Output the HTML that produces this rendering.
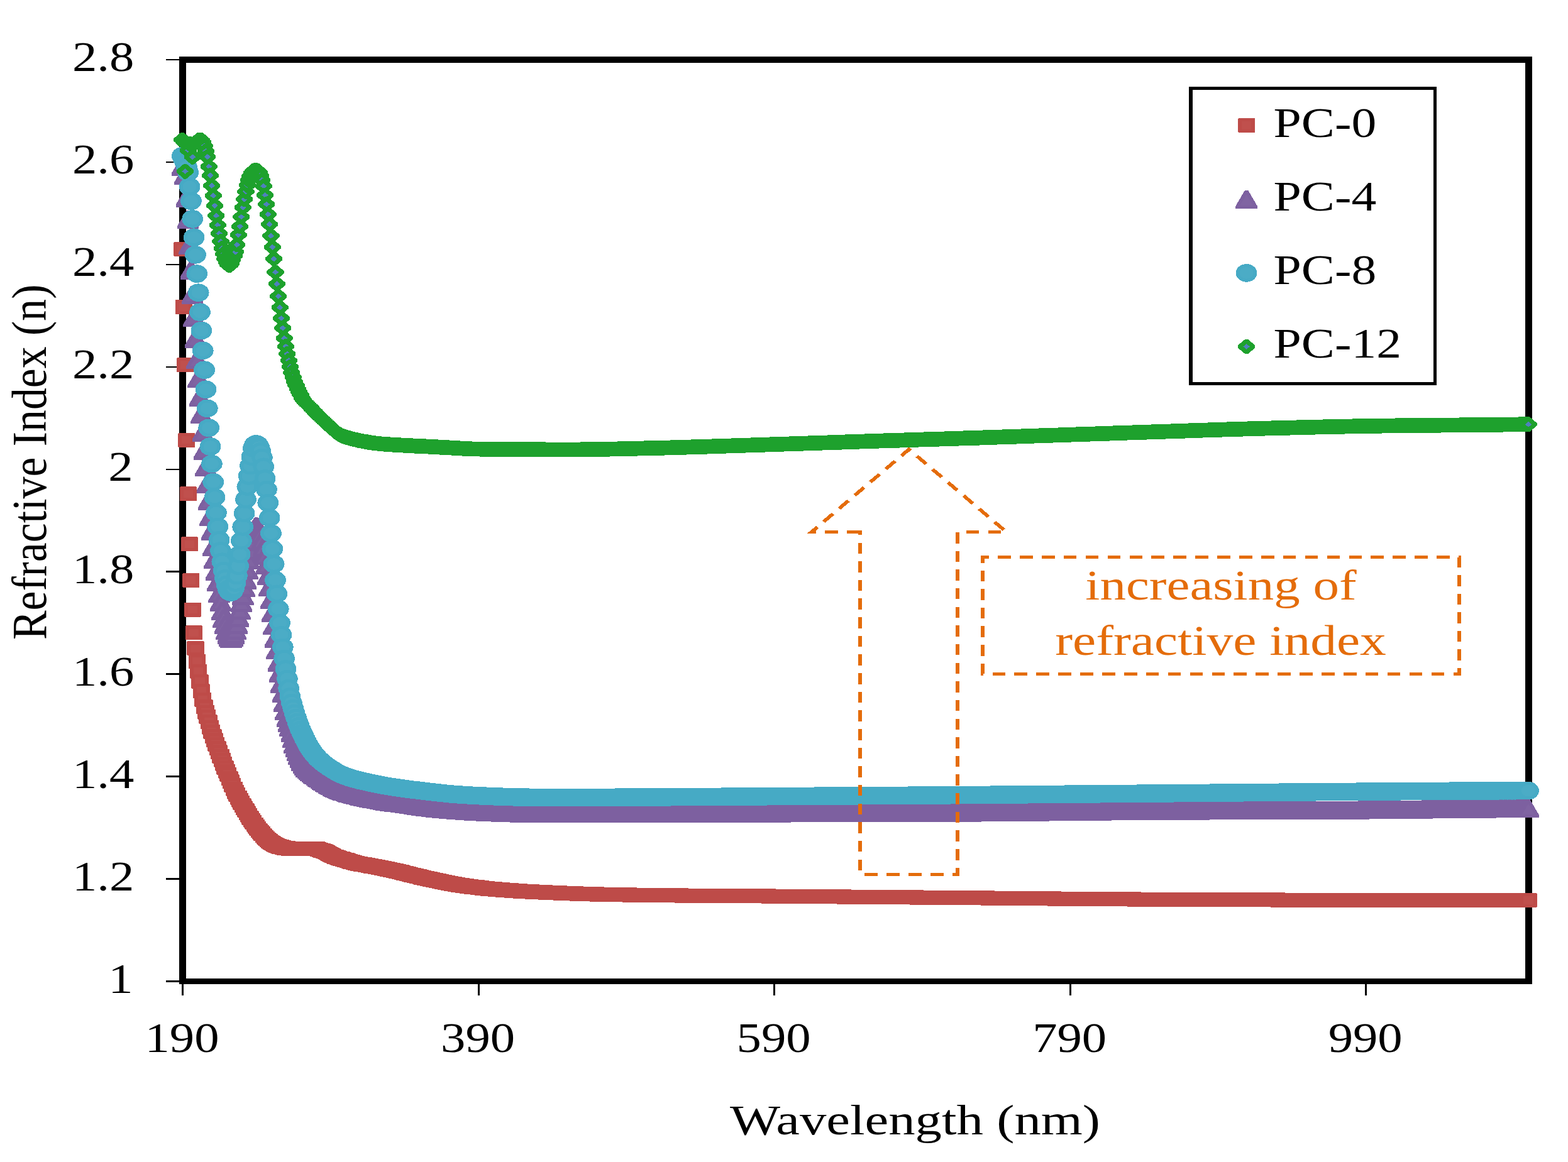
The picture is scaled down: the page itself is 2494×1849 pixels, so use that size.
<!DOCTYPE html>
<html lang="en">
<head>
<meta charset="utf-8">
<title>Refractive index versus wavelength</title>
<style>
html,body{margin:0;padding:0;background:#fff;}
body{width:2494px;height:1849px;overflow:hidden;}
svg{display:block;}
text{font-family:"Liberation Serif", "DejaVu Serif", serif;font-size:68px;fill:#000;}
.ann text{fill:#E46C0A;font-size:67px;}
</style>
</head>
<body>
<svg width="2494" height="1849" viewBox="0 0 2494 1849" role="img" aria-label="Refractive index versus wavelength for PC-0, PC-4, PC-8 and PC-12">
<rect x="0" y="0" width="2494" height="1849" fill="#fff"/>
<g transform="scale(1.18 1)" shape-rendering="crispEdges">
<defs>
 <g id="m-sq"><path d="M-10.6 -11.5H10.6L11.5 -10.5V10.5L10.6 11.5H-10.6L-11.5 10.5V-10.5Z" fill="#BE4B48"/><rect x="-6.4" y="-6.2" width="12.8" height="12.4" fill="#C0504D"/></g>
 <g id="m-tr"><path d="M-2.2 -14.5H2.2L14.6 10.6V14.5H-14.6V10.6Z" fill="#7D60A0"/><path d="M0 -7.7L8.5 9.5H-8.5Z" fill="#8064A2"/></g>
 <g id="m-ci"><circle cx="0" cy="0" r="14.3" fill="#46AAC5"/><circle cx="0" cy="0" r="9.3" fill="#4BACC6"/></g>
 <g id="m-di"><path d="M-1.7 -11.9H1.7L11.5 -2.1V2.1L1.7 11.9H-1.7L-11.5 2.1V-2.1Z" fill="#1EA12D"/><path d="M0 -4.5L4.4 0L0 4.5L-4.4 0Z" fill="#4F81BD"/></g>
 <marker id="k-sq" markerUnits="userSpaceOnUse" markerWidth="40" markerHeight="40" refX="0" refY="0" viewBox="-20 -20 40 40" overflow="visible" orient="0"><use href="#m-sq"/></marker>
 <marker id="k-tr" markerUnits="userSpaceOnUse" markerWidth="40" markerHeight="40" refX="0" refY="0" viewBox="-20 -20 40 40" overflow="visible" orient="0"><use href="#m-tr"/></marker>
 <marker id="k-ci" markerUnits="userSpaceOnUse" markerWidth="40" markerHeight="40" refX="0" refY="0" viewBox="-20 -20 40 40" overflow="visible" orient="0"><use href="#m-ci"/></marker>
 <marker id="k-di" markerUnits="userSpaceOnUse" markerWidth="40" markerHeight="40" refX="0" refY="0" viewBox="-20 -20 40 40" overflow="visible" orient="0"><use href="#m-di"/></marker>
</defs>
<rect class="frame" x="246.19" y="95.0" width="1814.41" height="1466.5" fill="none" stroke="#000" stroke-width="9.5" stroke-linejoin="miter"/>
<path class="ticks" d="M223.56 95H246.19M223.56 257.9H246.19M223.56 420.9H246.19M223.56 583.8H246.19M223.56 746.8H246.19M223.56 909.7H246.19M223.56 1072.7H246.19M223.56 1235.6H246.19M223.56 1398.6H246.19M223.56 1561.5H246.19M246.19 1561.5V1583.8M644.96 1561.5V1583.8M1043.73 1561.5V1583.8M1442.5 1561.5V1583.8M1841.27 1561.5V1583.8" fill="none" stroke="#000" stroke-width="2.6"/>
<g class="ylabels" text-anchor="end">
<text transform="translate(180.76 113) scale(0.9805 1)">2.8</text>
<text transform="translate(180.76 275.9) scale(0.9805 1)">2.6</text>
<text transform="translate(180.76 438.9) scale(0.9805 1)">2.4</text>
<text transform="translate(180.76 601.8) scale(0.9805 1)">2.2</text>
<text transform="translate(179.32 764.8) scale(0.9805 1)">2</text>
<text transform="translate(180.76 927.7) scale(0.9805 1)">1.8</text>
<text transform="translate(180.76 1090.7) scale(0.9805 1)">1.6</text>
<text transform="translate(180.76 1253.6) scale(0.9805 1)">1.4</text>
<text transform="translate(180.76 1416.6) scale(0.9805 1)">1.2</text>
<text transform="translate(179.32 1579.5) scale(0.9805 1)">1</text>
</g>
<g class="xlabels" text-anchor="middle">
<text transform="translate(245.34 1674) scale(0.9805 1)">190</text>
<text transform="translate(644.11 1674) scale(0.9805 1)">390</text>
<text transform="translate(1042.88 1674) scale(0.9805 1)">590</text>
<text transform="translate(1441.65 1674) scale(0.9805 1)">790</text>
<text transform="translate(1840.42 1674) scale(0.9805 1)">990</text>
</g>
<text transform="translate(983.9 1804.8) scale(1.0572 1)">Wavelength (nm)</text>
<text transform="translate(62.03 1018.1) rotate(-90) scale(1.026 0.986)">Refractive Index (n)</text>
<g class="series">
<polyline class="s-pc0" fill="none" stroke="none" marker-start="url(#k-sq)" marker-mid="url(#k-sq)" marker-end="url(#k-sq)" points="245.59,396.4 247.59,488.5 249.58,580.6 251.58,700.3 253.57,785.9 255.56,865.7 257.56,923.6 259.55,970 261.55,1006.7 263.54,1031.9 265.53,1052.3 267.53,1068.6 269.52,1084.1 271.52,1099.6 273.51,1113.4 275.5,1124.8 277.5,1133.2 279.49,1140.6 281.49,1148.6 283.48,1157 285.47,1164.6 287.47,1171.4 289.46,1177.8 291.46,1184.2 293.45,1190.5 295.44,1196.8 297.44,1203 299.43,1209.2 301.43,1215.3 303.42,1221.3 305.41,1227.1 307.41,1232.7 309.4,1238.3 311.4,1243.9 313.39,1249.6 315.38,1255 317.38,1260 319.37,1264.7 321.37,1269.1 323.36,1273.4 325.35,1277.6 327.35,1281.7 329.34,1285.7 331.34,1289.6 333.33,1293.5 335.33,1297.3 337.32,1301.2 339.31,1305 341.31,1308.6 343.3,1312 345.3,1315.3 347.29,1318.4 349.28,1321.4 351.28,1324.1 353.27,1326.8 355.27,1329.5 357.26,1332 359.25,1334.4 361.25,1336.6 363.24,1338.6 365.24,1340.2 367.23,1341.8 369.22,1343.2 371.22,1344.5 373.21,1345.6 375.21,1346.4 377.2,1347.2 379.19,1347.9 381.19,1348.5 383.18,1349 385.18,1349.5 387.17,1349.8 389.16,1350 391.16,1350.1 393.15,1350.2 395.15,1350.4 397.14,1350.4 399.13,1350.5 401.13,1350.6 403.12,1350.6 405.12,1350.6 407.11,1350.6 409.1,1350.6 411.1,1350.6 413.09,1350.6 415.09,1350.6 417.08,1350.6 419.07,1350.6 421.07,1350.6 423.06,1350.6 425.06,1350.6 427.05,1350.9 429.04,1351.4 431.04,1352.1 433.03,1353 435.03,1353.8 437.02,1354.7 439.02,1355.6 441.01,1356.7 443,1358 445,1359.3 446.99,1360.6 448.99,1361.9 450.98,1363 452.97,1363.9 454.97,1364.7 456.96,1365.4 458.96,1366.1 460.95,1366.7 462.94,1367.4 464.94,1368.1 466.93,1368.8 468.93,1369.6 470.92,1370.3 472.91,1371.1 474.91,1371.8 476.9,1372.4 478.9,1373 480.89,1373.5 482.88,1374 484.88,1374.5 486.87,1375 488.87,1375.4 490.86,1375.8 492.85,1376.3 494.85,1376.7 496.84,1377.1 498.84,1377.6 500.83,1378 502.82,1378.5 504.82,1378.9 506.81,1379.4 508.81,1379.8 510.8,1380.2 512.79,1380.7 514.79,1381.1 516.78,1381.6 518.78,1382 520.77,1382.5 522.76,1383 524.76,1383.5 526.75,1384 528.75,1384.5 530.74,1385.1 532.73,1385.6 534.73,1386.2 536.72,1386.8 538.72,1387.3 540.71,1387.9 542.71,1388.5 544.7,1389.1 546.69,1389.7 548.69,1390.3 550.68,1390.9 552.68,1391.5 554.67,1392.1 556.66,1392.7 558.66,1393.2 560.65,1393.8 562.65,1394.4 564.64,1394.9 566.63,1395.5 568.63,1396 570.62,1396.6 572.62,1397.1 574.61,1397.6 576.6,1398.1 578.6,1398.6 580.59,1399.2 582.59,1399.7 584.58,1400.2 586.57,1400.7 588.57,1401.2 590.56,1401.7 592.56,1402.2 594.55,1402.7 596.54,1403.2 598.54,1403.7 600.53,1404.2 602.53,1404.7 604.52,1405.1 606.51,1405.6 608.51,1406 610.5,1406.5 612.5,1406.9 614.49,1407.3 616.48,1407.7 618.48,1408 620.47,1408.4 622.47,1408.8 624.46,1409.1 626.45,1409.4 628.45,1409.8 630.44,1410.1 632.44,1410.4 634.43,1410.7 636.43,1411 638.42,1411.3 640.41,1411.6 642.41,1411.9 644.4,1412.2 646.4,1412.5 648.39,1412.8 650.38,1413 652.38,1413.3 654.37,1413.6 656.37,1413.8 658.36,1414 660.35,1414.3 662.35,1414.5 664.34,1414.7 666.34,1414.9 668.33,1415.1 670.32,1415.3 672.32,1415.5 674.31,1415.7 676.31,1415.9 678.3,1416.1 680.29,1416.3 682.29,1416.4 684.28,1416.6 686.28,1416.8 688.27,1416.9 690.26,1417.1 692.26,1417.2 694.25,1417.4 696.25,1417.5 698.24,1417.7 700.23,1417.8 702.23,1418 704.22,1418.1 706.22,1418.2 708.21,1418.4 710.2,1418.5 712.2,1418.6 714.19,1418.7 716.19,1418.9 718.18,1419 720.17,1419.1 722.17,1419.2 724.16,1419.3 726.16,1419.4 728.15,1419.5 730.14,1419.7 732.14,1419.8 734.13,1419.9 736.13,1420 738.12,1420.1 740.12,1420.2 742.11,1420.3 744.1,1420.4 746.1,1420.5 748.09,1420.6 750.09,1420.7 752.08,1420.8 754.07,1420.9 756.07,1421 758.06,1421.1 760.06,1421.2 762.05,1421.3 764.04,1421.4 766.04,1421.5 768.03,1421.6 770.03,1421.7 772.02,1421.8 774.01,1421.8 776.01,1421.9 778,1422 780,1422.1 781.99,1422.2 783.98,1422.3 785.98,1422.3 787.97,1422.4 789.97,1422.5 791.96,1422.6 793.95,1422.6 795.95,1422.7 797.94,1422.8 799.94,1422.8 801.93,1422.9 803.92,1422.9 805.92,1423 807.91,1423.1 809.91,1423.1 811.9,1423.2 813.89,1423.2 815.89,1423.3 817.88,1423.3 819.88,1423.4 821.87,1423.4 823.86,1423.5 825.86,1423.5 827.85,1423.5 829.85,1423.6 831.84,1423.6 833.83,1423.7 835.83,1423.7 837.82,1423.8 839.82,1423.8 841.81,1423.8 843.81,1423.9 845.8,1423.9 847.79,1423.9 849.79,1424 851.78,1424 853.78,1424.1 855.77,1424.1 857.76,1424.1 859.76,1424.2 861.75,1424.2 863.75,1424.2 865.74,1424.3 867.73,1424.3 869.73,1424.3 871.72,1424.3 873.72,1424.4 875.71,1424.4 877.7,1424.4 879.7,1424.5 881.69,1424.5 883.69,1424.5 885.68,1424.5 887.67,1424.6 889.67,1424.6 891.66,1424.6 893.66,1424.6 895.65,1424.7 897.64,1424.7 899.64,1424.7 901.63,1424.7 903.63,1424.8 905.62,1424.8 907.61,1424.8 909.61,1424.8 911.6,1424.9 913.6,1424.9 915.59,1424.9 917.58,1424.9 919.58,1425 921.57,1425 923.57,1425 925.56,1425 927.55,1425 929.55,1425.1 931.54,1425.1 933.54,1425.1 935.53,1425.1 937.53,1425.1 939.52,1425.1 941.51,1425.2 943.51,1425.2 945.5,1425.2 947.5,1425.2 949.49,1425.2 951.48,1425.2 953.48,1425.3 955.47,1425.3 957.47,1425.3 959.46,1425.3 961.45,1425.3 963.45,1425.3 965.44,1425.4 967.44,1425.4 969.43,1425.4 971.42,1425.4 973.42,1425.4 975.41,1425.4 977.41,1425.4 979.4,1425.5 981.39,1425.5 983.39,1425.5 985.38,1425.5 987.38,1425.5 989.37,1425.5 991.36,1425.6 993.36,1425.6 995.35,1425.6 997.35,1425.6 999.34,1425.6 1001.33,1425.6 1003.33,1425.7 1005.32,1425.7 1007.32,1425.7 1009.31,1425.7 1011.3,1425.7 1013.3,1425.7 1015.29,1425.8 1017.29,1425.8 1019.28,1425.8 1021.27,1425.8 1023.27,1425.8 1025.26,1425.8 1027.26,1425.9 1029.25,1425.9 1031.24,1425.9 1033.24,1425.9 1035.23,1425.9 1037.23,1426 1039.22,1426 1041.22,1426 1043.21,1426 1045.2,1426 1047.2,1426.1 1049.19,1426.1 1051.19,1426.1 1053.18,1426.1 1055.17,1426.1 1057.17,1426.2 1059.16,1426.2 1061.16,1426.2 1063.15,1426.2 1065.14,1426.2 1067.14,1426.2 1069.13,1426.3 1071.13,1426.3 1073.12,1426.3 1075.11,1426.3 1077.11,1426.3 1079.1,1426.4 1081.1,1426.4 1083.09,1426.4 1085.08,1426.4 1087.08,1426.4 1089.07,1426.5 1091.07,1426.5 1093.06,1426.5 1095.05,1426.5 1097.05,1426.5 1099.04,1426.6 1101.04,1426.6 1103.03,1426.6 1105.02,1426.6 1107.02,1426.6 1109.01,1426.7 1111.01,1426.7 1113,1426.7 1114.99,1426.7 1116.99,1426.7 1118.98,1426.8 1120.98,1426.8 1122.97,1426.8 1124.96,1426.8 1126.96,1426.8 1128.95,1426.9 1130.95,1426.9 1132.94,1426.9 1134.93,1426.9 1136.93,1426.9 1138.92,1427 1140.92,1427 1142.91,1427 1144.91,1427 1146.9,1427 1148.89,1427.1 1150.89,1427.1 1152.88,1427.1 1154.88,1427.1 1156.87,1427.1 1158.86,1427.2 1160.86,1427.2 1162.85,1427.2 1164.85,1427.2 1166.84,1427.2 1168.83,1427.3 1170.83,1427.3 1172.82,1427.3 1174.82,1427.3 1176.81,1427.3 1178.8,1427.4 1180.8,1427.4 1182.79,1427.4 1184.79,1427.4 1186.78,1427.4 1188.77,1427.5 1190.77,1427.5 1192.76,1427.5 1194.76,1427.5 1196.75,1427.5 1198.74,1427.6 1200.74,1427.6 1202.73,1427.6 1204.73,1427.6 1206.72,1427.6 1208.71,1427.7 1210.71,1427.7 1212.7,1427.7 1214.7,1427.7 1216.69,1427.8 1218.68,1427.8 1220.68,1427.8 1222.67,1427.8 1224.67,1427.8 1226.66,1427.9 1228.65,1427.9 1230.65,1427.9 1232.64,1427.9 1234.64,1427.9 1236.63,1428 1238.63,1428 1240.62,1428 1242.61,1428 1244.61,1428 1246.6,1428.1 1248.6,1428.1 1250.59,1428.1 1252.58,1428.1 1254.58,1428.1 1256.57,1428.2 1258.57,1428.2 1260.56,1428.2 1262.55,1428.2 1264.55,1428.2 1266.54,1428.3 1268.54,1428.3 1270.53,1428.3 1272.52,1428.3 1274.52,1428.3 1276.51,1428.4 1278.51,1428.4 1280.5,1428.4 1282.49,1428.4 1284.49,1428.4 1286.48,1428.5 1288.48,1428.5 1290.47,1428.5 1292.46,1428.5 1294.46,1428.5 1296.45,1428.6 1298.45,1428.6 1300.44,1428.6 1302.43,1428.6 1304.43,1428.6 1306.42,1428.7 1308.42,1428.7 1310.41,1428.7 1312.4,1428.7 1314.4,1428.8 1316.39,1428.8 1318.39,1428.8 1320.38,1428.8 1322.37,1428.8 1324.37,1428.9 1326.36,1428.9 1328.36,1428.9 1330.35,1428.9 1332.34,1429 1334.34,1429 1336.33,1429 1338.33,1429 1340.32,1429 1342.32,1429.1 1344.31,1429.1 1346.3,1429.1 1348.3,1429.1 1350.29,1429.2 1352.29,1429.2 1354.28,1429.2 1356.27,1429.2 1358.27,1429.2 1360.26,1429.3 1362.26,1429.3 1364.25,1429.3 1366.24,1429.3 1368.24,1429.4 1370.23,1429.4 1372.23,1429.4 1374.22,1429.4 1376.21,1429.4 1378.21,1429.5 1380.2,1429.5 1382.2,1429.5 1384.19,1429.5 1386.18,1429.6 1388.18,1429.6 1390.17,1429.6 1392.17,1429.6 1394.16,1429.6 1396.15,1429.7 1398.15,1429.7 1400.14,1429.7 1402.14,1429.7 1404.13,1429.8 1406.12,1429.8 1408.12,1429.8 1410.11,1429.8 1412.11,1429.8 1414.1,1429.9 1416.09,1429.9 1418.09,1429.9 1420.08,1429.9 1422.08,1430 1424.07,1430 1426.06,1430 1428.06,1430 1430.05,1430 1432.05,1430.1 1434.04,1430.1 1436.04,1430.1 1438.03,1430.1 1440.02,1430.1 1442.02,1430.2 1444.01,1430.2 1446.01,1430.2 1448,1430.2 1449.99,1430.3 1451.99,1430.3 1453.98,1430.3 1455.98,1430.3 1457.97,1430.3 1459.96,1430.4 1461.96,1430.4 1463.95,1430.4 1465.95,1430.4 1467.94,1430.4 1469.93,1430.5 1471.93,1430.5 1473.92,1430.5 1475.92,1430.5 1477.91,1430.5 1479.9,1430.5 1481.9,1430.6 1483.89,1430.6 1485.89,1430.6 1487.88,1430.6 1489.87,1430.6 1491.87,1430.7 1493.86,1430.7 1495.86,1430.7 1497.85,1430.7 1499.84,1430.7 1501.84,1430.7 1503.83,1430.8 1505.83,1430.8 1507.82,1430.8 1509.81,1430.8 1511.81,1430.8 1513.8,1430.8 1515.8,1430.9 1517.79,1430.9 1519.78,1430.9 1521.78,1430.9 1523.77,1430.9 1525.77,1430.9 1527.76,1430.9 1529.75,1431 1531.75,1431 1533.74,1431 1535.74,1431 1537.73,1431 1539.73,1431 1541.72,1431 1543.71,1431.1 1545.71,1431.1 1547.7,1431.1 1549.7,1431.1 1551.69,1431.1 1553.68,1431.1 1555.68,1431.1 1557.67,1431.1 1559.67,1431.2 1561.66,1431.2 1563.65,1431.2 1565.65,1431.2 1567.64,1431.2 1569.64,1431.2 1571.63,1431.2 1573.62,1431.2 1575.62,1431.2 1577.61,1431.3 1579.61,1431.3 1581.6,1431.3 1583.59,1431.3 1585.59,1431.3 1587.58,1431.3 1589.58,1431.3 1591.57,1431.3 1593.56,1431.3 1595.56,1431.4 1597.55,1431.4 1599.55,1431.4 1601.54,1431.4 1603.53,1431.4 1605.53,1431.4 1607.52,1431.4 1609.52,1431.4 1611.51,1431.4 1613.5,1431.5 1615.5,1431.5 1617.49,1431.5 1619.49,1431.5 1621.48,1431.5 1623.47,1431.5 1625.47,1431.5 1627.46,1431.5 1629.46,1431.5 1631.45,1431.5 1633.44,1431.6 1635.44,1431.6 1637.43,1431.6 1639.43,1431.6 1641.42,1431.6 1643.42,1431.6 1645.41,1431.6 1647.4,1431.6 1649.4,1431.6 1651.39,1431.6 1653.39,1431.7 1655.38,1431.7 1657.37,1431.7 1659.37,1431.7 1661.36,1431.7 1663.36,1431.7 1665.35,1431.7 1667.34,1431.7 1669.34,1431.7 1671.33,1431.7 1673.33,1431.7 1675.32,1431.8 1677.31,1431.8 1679.31,1431.8 1681.3,1431.8 1683.3,1431.8 1685.29,1431.8 1687.28,1431.8 1689.28,1431.8 1691.27,1431.8 1693.27,1431.8 1695.26,1431.8 1697.25,1431.8 1699.25,1431.9 1701.24,1431.9 1703.24,1431.9 1705.23,1431.9 1707.22,1431.9 1709.22,1431.9 1711.21,1431.9 1713.21,1431.9 1715.2,1431.9 1717.19,1431.9 1719.19,1431.9 1721.18,1431.9 1723.18,1432 1725.17,1432 1727.16,1432 1729.16,1432 1731.15,1432 1733.15,1432 1735.14,1432 1737.14,1432 1739.13,1432 1741.12,1432 1743.12,1432 1745.11,1432 1747.11,1432 1749.1,1432 1751.09,1432.1 1753.09,1432.1 1755.08,1432.1 1757.08,1432.1 1759.07,1432.1 1761.06,1432.1 1763.06,1432.1 1765.05,1432.1 1767.05,1432.1 1769.04,1432.1 1771.03,1432.1 1773.03,1432.1 1775.02,1432.1 1777.02,1432.1 1779.01,1432.1 1781,1432.1 1783,1432.2 1784.99,1432.2 1786.99,1432.2 1788.98,1432.2 1790.97,1432.2 1792.97,1432.2 1794.96,1432.2 1796.96,1432.2 1798.95,1432.2 1800.94,1432.2 1802.94,1432.2 1804.93,1432.2 1806.93,1432.2 1808.92,1432.2 1810.91,1432.2 1812.91,1432.2 1814.9,1432.2 1816.9,1432.2 1818.89,1432.2 1820.88,1432.2 1822.88,1432.3 1824.87,1432.3 1826.87,1432.3 1828.86,1432.3 1830.85,1432.3 1832.85,1432.3 1834.84,1432.3 1836.84,1432.3 1838.83,1432.3 1840.83,1432.3 1842.82,1432.3 1844.81,1432.3 1846.81,1432.3 1848.8,1432.3 1850.8,1432.3 1852.79,1432.3 1854.78,1432.3 1856.78,1432.3 1858.77,1432.3 1860.77,1432.3 1862.76,1432.3 1864.75,1432.3 1866.75,1432.3 1868.74,1432.3 1870.74,1432.3 1872.73,1432.3 1874.72,1432.3 1876.72,1432.3 1878.71,1432.3 1880.71,1432.4 1882.7,1432.4 1884.69,1432.4 1886.69,1432.4 1888.68,1432.4 1890.68,1432.4 1892.67,1432.4 1894.66,1432.4 1896.66,1432.4 1898.65,1432.4 1900.65,1432.4 1902.64,1432.4 1904.63,1432.4 1906.63,1432.4 1908.62,1432.4 1910.62,1432.4 1912.61,1432.4 1914.6,1432.4 1916.6,1432.4 1918.59,1432.4 1920.59,1432.4 1922.58,1432.4 1924.57,1432.4 1926.57,1432.4 1928.56,1432.4 1930.56,1432.4 1932.55,1432.4 1934.54,1432.4 1936.54,1432.4 1938.53,1432.4 1940.53,1432.4 1942.52,1432.4 1944.52,1432.4 1946.51,1432.4 1948.5,1432.5 1950.5,1432.5 1952.49,1432.5 1954.49,1432.5 1956.48,1432.5 1958.47,1432.5 1960.47,1432.5 1962.46,1432.5 1964.46,1432.5 1966.45,1432.5 1968.44,1432.5 1970.44,1432.5 1972.43,1432.5 1974.43,1432.5 1976.42,1432.5 1978.41,1432.5 1980.41,1432.5 1982.4,1432.5 1984.4,1432.5 1986.39,1432.5 1988.38,1432.5 1990.38,1432.5 1992.37,1432.5 1994.37,1432.5 1996.36,1432.5 1998.35,1432.5 2000.35,1432.5 2002.34,1432.5 2004.34,1432.5 2006.33,1432.5 2008.32,1432.5 2010.32,1432.5 2012.31,1432.5 2014.31,1432.5 2016.3,1432.5 2018.29,1432.5 2020.29,1432.5 2022.28,1432.5 2024.28,1432.5 2026.27,1432.5 2028.26,1432.5 2030.26,1432.5 2032.25,1432.5 2034.25,1432.5 2036.24,1432.5 2038.24,1432.5 2040.23,1432.5 2042.22,1432.5 2044.22,1432.5 2046.21,1432.5 2048.21,1432.5 2050.2,1432.5 2052.19,1432.5 2054.19,1432.5 2056.18,1432.5 2058.18,1432.5 2060.17,1432.5"/>
<polyline class="s-pc4" fill="none" stroke="none" marker-start="url(#k-tr)" marker-mid="url(#k-tr)" marker-end="url(#k-tr)" points="245.59,265.5 247.59,264.5 249.58,279.1 251.58,315 253.57,349.2 255.56,390.7 257.56,430 259.55,469 261.55,505.3 263.54,539 265.53,572.4 267.53,602.6 269.52,632.4 271.52,659.6 273.51,688.6 275.5,717 277.5,743.3 279.49,770.1 281.49,797 283.48,822.5 285.47,845.7 287.47,870.6 289.46,890.2 291.46,909.3 293.45,926.7 295.44,944.8 297.44,958.6 299.43,972.5 301.43,984.1 303.42,994.2 305.41,1003.7 307.41,1010.2 309.4,1014.6 311.4,1016 313.39,1014.6 315.38,1010.2 317.38,1003.7 319.37,994.2 321.37,983.4 323.36,971.6 325.35,959.4 327.35,948.4 329.34,935.8 331.34,923.1 333.33,907.3 335.33,891.8 337.32,876.3 339.31,862.5 341.31,850.2 343.3,841.3 345.3,837.5 347.29,838.8 349.28,842.9 351.28,850.2 353.27,860 355.27,871.4 357.26,884.5 359.25,899.1 361.25,916.5 363.24,934.7 365.24,954.9 367.23,975.3 369.22,995.7 371.22,1016 373.21,1034.9 375.21,1054.6 377.2,1071.2 379.19,1088 381.19,1103.9 383.18,1118.5 385.18,1131.3 387.17,1142.7 389.16,1150.8 391.16,1157.8 393.15,1166.1 395.15,1175.7 397.14,1184.1 399.13,1190.9 401.13,1196.8 403.12,1202.3 405.12,1207.6 407.11,1212.5 409.1,1216.5 411.1,1219.5 413.09,1222 415.09,1224.3 417.08,1226.3 419.07,1228.4 421.07,1230.3 423.06,1232.2 425.06,1233.9 427.05,1235.6 429.04,1237.3 431.04,1238.9 433.03,1240.6 435.03,1242.2 437.02,1243.8 439.02,1245.4 441.01,1246.9 443,1248.3 445,1249.6 446.99,1250.8 448.99,1252 450.98,1253.1 452.97,1254.2 454.97,1255.3 456.96,1256.3 458.96,1257.2 460.95,1258.2 462.94,1259.1 464.94,1259.9 466.93,1260.7 468.93,1261.5 470.92,1262.2 472.91,1262.9 474.91,1263.5 476.9,1264.1 478.9,1264.7 480.89,1265.3 482.88,1265.9 484.88,1266.4 486.87,1267 488.87,1267.5 490.86,1268 492.85,1268.5 494.85,1269 496.84,1269.5 498.84,1270 500.83,1270.5 502.82,1271 504.82,1271.5 506.81,1271.9 508.81,1272.4 510.8,1272.9 512.79,1273.3 514.79,1273.8 516.78,1274.2 518.78,1274.6 520.77,1275 522.76,1275.4 524.76,1275.7 526.75,1276.1 528.75,1276.4 530.74,1276.7 532.73,1277 534.73,1277.2 536.72,1277.5 538.72,1277.8 540.71,1278.1 542.71,1278.4 544.7,1278.7 546.69,1279 548.69,1279.3 550.68,1279.7 552.68,1280 554.67,1280.4 556.66,1280.8 558.66,1281.2 560.65,1281.6 562.65,1282 564.64,1282.4 566.63,1282.7 568.63,1283.1 570.62,1283.4 572.62,1283.8 574.61,1284 576.6,1284.3 578.6,1284.6 580.59,1284.9 582.59,1285.2 584.58,1285.4 586.57,1285.7 588.57,1286 590.56,1286.2 592.56,1286.5 594.55,1286.7 596.54,1287 598.54,1287.2 600.53,1287.4 602.53,1287.7 604.52,1287.9 606.51,1288.1 608.51,1288.3 610.5,1288.5 612.5,1288.7 614.49,1288.9 616.48,1289.1 618.48,1289.2 620.47,1289.4 622.47,1289.6 624.46,1289.8 626.45,1289.9 628.45,1290.1 630.44,1290.2 632.44,1290.4 634.43,1290.5 636.43,1290.7 638.42,1290.8 640.41,1291 642.41,1291.1 644.4,1291.3 646.4,1291.4 648.39,1291.5 650.38,1291.7 652.38,1291.8 654.37,1291.9 656.37,1292 658.36,1292.1 660.35,1292.2 662.35,1292.3 664.34,1292.4 666.34,1292.5 668.33,1292.6 670.32,1292.7 672.32,1292.8 674.31,1292.9 676.31,1293 678.3,1293.1 680.29,1293.1 682.29,1293.2 684.28,1293.3 686.28,1293.4 688.27,1293.5 690.26,1293.6 692.26,1293.6 694.25,1293.7 696.25,1293.8 698.24,1293.8 700.23,1293.9 702.23,1294 704.22,1294 706.22,1294.1 708.21,1294.1 710.2,1294.2 712.2,1294.2 714.19,1294.2 716.19,1294.3 718.18,1294.3 720.17,1294.3 722.17,1294.3 724.16,1294.4 726.16,1294.4 728.15,1294.4 730.14,1294.4 732.14,1294.4 734.13,1294.5 736.13,1294.5 738.12,1294.5 740.12,1294.5 742.11,1294.5 744.1,1294.6 746.1,1294.6 748.09,1294.6 750.09,1294.6 752.08,1294.6 754.07,1294.7 756.07,1294.7 758.06,1294.7 760.06,1294.7 762.05,1294.7 764.04,1294.7 766.04,1294.7 768.03,1294.8 770.03,1294.8 772.02,1294.8 774.01,1294.8 776.01,1294.8 778,1294.8 780,1294.8 781.99,1294.8 783.98,1294.9 785.98,1294.9 787.97,1294.9 789.97,1294.9 791.96,1294.9 793.95,1294.9 795.95,1294.9 797.94,1294.9 799.94,1294.9 801.93,1294.9 803.92,1294.9 805.92,1294.9 807.91,1294.9 809.91,1294.9 811.9,1294.9 813.89,1294.9 815.89,1294.9 817.88,1294.9 819.88,1294.9 821.87,1294.9 823.86,1294.9 825.86,1294.9 827.85,1294.9 829.85,1294.9 831.84,1294.9 833.83,1294.9 835.83,1294.9 837.82,1294.9 839.82,1294.9 841.81,1294.9 843.81,1294.9 845.8,1294.9 847.79,1294.9 849.79,1294.9 851.78,1294.9 853.78,1294.9 855.77,1294.9 857.76,1294.9 859.76,1294.9 861.75,1294.9 863.75,1294.9 865.74,1294.9 867.73,1294.9 869.73,1294.9 871.72,1294.9 873.72,1294.9 875.71,1294.9 877.7,1294.9 879.7,1294.9 881.69,1294.9 883.69,1294.9 885.68,1294.9 887.67,1294.9 889.67,1294.9 891.66,1294.9 893.66,1294.9 895.65,1294.9 897.64,1294.9 899.64,1294.9 901.63,1294.9 903.63,1294.9 905.62,1294.9 907.61,1294.9 909.61,1294.9 911.6,1294.9 913.6,1294.9 915.59,1294.9 917.58,1294.9 919.58,1294.9 921.57,1294.9 923.57,1294.9 925.56,1294.9 927.55,1294.9 929.55,1294.9 931.54,1294.9 933.54,1294.8 935.53,1294.8 937.53,1294.8 939.52,1294.8 941.51,1294.8 943.51,1294.8 945.5,1294.8 947.5,1294.7 949.49,1294.7 951.48,1294.7 953.48,1294.7 955.47,1294.7 957.47,1294.6 959.46,1294.6 961.45,1294.6 963.45,1294.6 965.44,1294.6 967.44,1294.5 969.43,1294.5 971.42,1294.5 973.42,1294.5 975.41,1294.5 977.41,1294.4 979.4,1294.4 981.39,1294.4 983.39,1294.4 985.38,1294.4 987.38,1294.3 989.37,1294.3 991.36,1294.3 993.36,1294.3 995.35,1294.3 997.35,1294.2 999.34,1294.2 1001.33,1294.2 1003.33,1294.2 1005.32,1294.2 1007.32,1294.2 1009.31,1294.1 1011.3,1294.1 1013.3,1294.1 1015.29,1294.1 1017.29,1294.1 1019.28,1294.1 1021.27,1294.1 1023.27,1294.1 1025.26,1294.1 1027.26,1294.1 1029.25,1294 1031.24,1294 1033.24,1294 1035.23,1294 1037.23,1294 1039.22,1294 1041.22,1294 1043.21,1294 1045.2,1294 1047.2,1294 1049.19,1294 1051.19,1294 1053.18,1293.9 1055.17,1293.9 1057.17,1293.9 1059.16,1293.9 1061.16,1293.9 1063.15,1293.9 1065.14,1293.9 1067.14,1293.9 1069.13,1293.9 1071.13,1293.9 1073.12,1293.9 1075.11,1293.9 1077.11,1293.9 1079.1,1293.8 1081.1,1293.8 1083.09,1293.8 1085.08,1293.8 1087.08,1293.8 1089.07,1293.8 1091.07,1293.8 1093.06,1293.8 1095.05,1293.8 1097.05,1293.8 1099.04,1293.8 1101.04,1293.8 1103.03,1293.8 1105.02,1293.8 1107.02,1293.8 1109.01,1293.8 1111.01,1293.8 1113,1293.7 1114.99,1293.7 1116.99,1293.7 1118.98,1293.7 1120.98,1293.7 1122.97,1293.7 1124.96,1293.7 1126.96,1293.7 1128.95,1293.7 1130.95,1293.7 1132.94,1293.7 1134.93,1293.7 1136.93,1293.7 1138.92,1293.7 1140.92,1293.7 1142.91,1293.7 1144.91,1293.7 1146.9,1293.7 1148.89,1293.6 1150.89,1293.6 1152.88,1293.6 1154.88,1293.6 1156.87,1293.6 1158.86,1293.6 1160.86,1293.6 1162.85,1293.6 1164.85,1293.6 1166.84,1293.6 1168.83,1293.6 1170.83,1293.6 1172.82,1293.6 1174.82,1293.6 1176.81,1293.6 1178.8,1293.6 1180.8,1293.6 1182.79,1293.6 1184.79,1293.5 1186.78,1293.5 1188.77,1293.5 1190.77,1293.5 1192.76,1293.5 1194.76,1293.5 1196.75,1293.5 1198.74,1293.5 1200.74,1293.5 1202.73,1293.5 1204.73,1293.5 1206.72,1293.5 1208.71,1293.5 1210.71,1293.5 1212.7,1293.5 1214.7,1293.5 1216.69,1293.4 1218.68,1293.4 1220.68,1293.4 1222.67,1293.4 1224.67,1293.4 1226.66,1293.4 1228.65,1293.4 1230.65,1293.4 1232.64,1293.4 1234.64,1293.4 1236.63,1293.4 1238.63,1293.4 1240.62,1293.4 1242.61,1293.3 1244.61,1293.3 1246.6,1293.3 1248.6,1293.3 1250.59,1293.3 1252.58,1293.3 1254.58,1293.3 1256.57,1293.3 1258.57,1293.3 1260.56,1293.3 1262.55,1293.3 1264.55,1293.2 1266.54,1293.2 1268.54,1293.2 1270.53,1293.2 1272.52,1293.2 1274.52,1293.2 1276.51,1293.2 1278.51,1293.2 1280.5,1293.2 1282.49,1293.1 1284.49,1293.1 1286.48,1293.1 1288.48,1293.1 1290.47,1293.1 1292.46,1293.1 1294.46,1293.1 1296.45,1293 1298.45,1293 1300.44,1293 1302.43,1293 1304.43,1293 1306.42,1293 1308.42,1293 1310.41,1292.9 1312.4,1292.9 1314.4,1292.9 1316.39,1292.9 1318.39,1292.9 1320.38,1292.8 1322.37,1292.8 1324.37,1292.8 1326.36,1292.8 1328.36,1292.8 1330.35,1292.8 1332.34,1292.7 1334.34,1292.7 1336.33,1292.7 1338.33,1292.7 1340.32,1292.7 1342.32,1292.6 1344.31,1292.6 1346.3,1292.6 1348.3,1292.6 1350.29,1292.5 1352.29,1292.5 1354.28,1292.5 1356.27,1292.5 1358.27,1292.5 1360.26,1292.4 1362.26,1292.4 1364.25,1292.4 1366.24,1292.4 1368.24,1292.3 1370.23,1292.3 1372.23,1292.3 1374.22,1292.3 1376.21,1292.3 1378.21,1292.2 1380.2,1292.2 1382.2,1292.2 1384.19,1292.2 1386.18,1292.1 1388.18,1292.1 1390.17,1292.1 1392.17,1292.1 1394.16,1292 1396.15,1292 1398.15,1292 1400.14,1292 1402.14,1291.9 1404.13,1291.9 1406.12,1291.9 1408.12,1291.9 1410.11,1291.8 1412.11,1291.8 1414.1,1291.8 1416.09,1291.8 1418.09,1291.7 1420.08,1291.7 1422.08,1291.7 1424.07,1291.7 1426.06,1291.6 1428.06,1291.6 1430.05,1291.6 1432.05,1291.6 1434.04,1291.5 1436.04,1291.5 1438.03,1291.5 1440.02,1291.5 1442.02,1291.5 1444.01,1291.4 1446.01,1291.4 1448,1291.4 1449.99,1291.4 1451.99,1291.3 1453.98,1291.3 1455.98,1291.3 1457.97,1291.3 1459.96,1291.2 1461.96,1291.2 1463.95,1291.2 1465.95,1291.2 1467.94,1291.1 1469.93,1291.1 1471.93,1291.1 1473.92,1291.1 1475.92,1291 1477.91,1291 1479.9,1291 1481.9,1291 1483.89,1291 1485.89,1290.9 1487.88,1290.9 1489.87,1290.9 1491.87,1290.9 1493.86,1290.8 1495.86,1290.8 1497.85,1290.8 1499.84,1290.8 1501.84,1290.8 1503.83,1290.7 1505.83,1290.7 1507.82,1290.7 1509.81,1290.7 1511.81,1290.7 1513.8,1290.6 1515.8,1290.6 1517.79,1290.6 1519.78,1290.6 1521.78,1290.6 1523.77,1290.5 1525.77,1290.5 1527.76,1290.5 1529.75,1290.5 1531.75,1290.5 1533.74,1290.5 1535.74,1290.4 1537.73,1290.4 1539.73,1290.4 1541.72,1290.4 1543.71,1290.4 1545.71,1290.4 1547.7,1290.3 1549.7,1290.3 1551.69,1290.3 1553.68,1290.3 1555.68,1290.3 1557.67,1290.3 1559.67,1290.3 1561.66,1290.3 1563.65,1290.2 1565.65,1290.2 1567.64,1290.2 1569.64,1290.2 1571.63,1290.2 1573.62,1290.2 1575.62,1290.2 1577.61,1290.2 1579.61,1290.1 1581.6,1290.1 1583.59,1290.1 1585.59,1290.1 1587.58,1290.1 1589.58,1290.1 1591.57,1290.1 1593.56,1290.1 1595.56,1290.1 1597.55,1290 1599.55,1290 1601.54,1290 1603.53,1290 1605.53,1290 1607.52,1290 1609.52,1290 1611.51,1290 1613.5,1290 1615.5,1290 1617.49,1289.9 1619.49,1289.9 1621.48,1289.9 1623.47,1289.9 1625.47,1289.9 1627.46,1289.9 1629.46,1289.9 1631.45,1289.9 1633.44,1289.9 1635.44,1289.9 1637.43,1289.9 1639.43,1289.8 1641.42,1289.8 1643.42,1289.8 1645.41,1289.8 1647.4,1289.8 1649.4,1289.8 1651.39,1289.8 1653.39,1289.8 1655.38,1289.8 1657.37,1289.8 1659.37,1289.8 1661.36,1289.8 1663.36,1289.7 1665.35,1289.7 1667.34,1289.7 1669.34,1289.7 1671.33,1289.7 1673.33,1289.7 1675.32,1289.7 1677.31,1289.7 1679.31,1289.7 1681.3,1289.7 1683.3,1289.7 1685.29,1289.7 1687.28,1289.7 1689.28,1289.6 1691.27,1289.6 1693.27,1289.6 1695.26,1289.6 1697.25,1289.6 1699.25,1289.6 1701.24,1289.6 1703.24,1289.6 1705.23,1289.6 1707.22,1289.6 1709.22,1289.6 1711.21,1289.6 1713.21,1289.6 1715.2,1289.5 1717.19,1289.5 1719.19,1289.5 1721.18,1289.5 1723.18,1289.5 1725.17,1289.5 1727.16,1289.5 1729.16,1289.5 1731.15,1289.5 1733.15,1289.5 1735.14,1289.5 1737.14,1289.5 1739.13,1289.4 1741.12,1289.4 1743.12,1289.4 1745.11,1289.4 1747.11,1289.4 1749.1,1289.4 1751.09,1289.4 1753.09,1289.4 1755.08,1289.4 1757.08,1289.4 1759.07,1289.4 1761.06,1289.4 1763.06,1289.3 1765.05,1289.3 1767.05,1289.3 1769.04,1289.3 1771.03,1289.3 1773.03,1289.3 1775.02,1289.3 1777.02,1289.3 1779.01,1289.3 1781,1289.3 1783,1289.2 1784.99,1289.2 1786.99,1289.2 1788.98,1289.2 1790.97,1289.2 1792.97,1289.2 1794.96,1289.2 1796.96,1289.2 1798.95,1289.2 1800.94,1289.1 1802.94,1289.1 1804.93,1289.1 1806.93,1289.1 1808.92,1289.1 1810.91,1289.1 1812.91,1289.1 1814.9,1289.1 1816.9,1289.1 1818.89,1289 1820.88,1289 1822.88,1289 1824.87,1289 1826.87,1289 1828.86,1289 1830.85,1289 1832.85,1288.9 1834.84,1288.9 1836.84,1288.9 1838.83,1288.9 1840.83,1288.9 1842.82,1288.9 1844.81,1288.9 1846.81,1288.8 1848.8,1288.8 1850.8,1288.8 1852.79,1288.8 1854.78,1288.8 1856.78,1288.8 1858.77,1288.7 1860.77,1288.7 1862.76,1288.7 1864.75,1288.7 1866.75,1288.6 1868.74,1288.6 1870.74,1288.6 1872.73,1288.6 1874.72,1288.6 1876.72,1288.5 1878.71,1288.5 1880.71,1288.5 1882.7,1288.4 1884.69,1288.4 1886.69,1288.4 1888.68,1288.4 1890.68,1288.3 1892.67,1288.3 1894.66,1288.3 1896.66,1288.3 1898.65,1288.2 1900.65,1288.2 1902.64,1288.2 1904.63,1288.1 1906.63,1288.1 1908.62,1288.1 1910.62,1288.1 1912.61,1288 1914.6,1288 1916.6,1288 1918.59,1287.9 1920.59,1287.9 1922.58,1287.9 1924.57,1287.8 1926.57,1287.8 1928.56,1287.8 1930.56,1287.8 1932.55,1287.7 1934.54,1287.7 1936.54,1287.7 1938.53,1287.6 1940.53,1287.6 1942.52,1287.6 1944.52,1287.6 1946.51,1287.5 1948.5,1287.5 1950.5,1287.5 1952.49,1287.4 1954.49,1287.4 1956.48,1287.4 1958.47,1287.4 1960.47,1287.3 1962.46,1287.3 1964.46,1287.3 1966.45,1287.3 1968.44,1287.2 1970.44,1287.2 1972.43,1287.2 1974.43,1287.2 1976.42,1287.2 1978.41,1287.1 1980.41,1287.1 1982.4,1287.1 1984.4,1287.1 1986.39,1287.1 1988.38,1287.1 1990.38,1287 1992.37,1287 1994.37,1287 1996.36,1287 1998.35,1287 2000.35,1287 2002.34,1287 2004.34,1286.9 2006.33,1286.9 2008.32,1286.9 2010.32,1286.9 2012.31,1286.9 2014.31,1286.9 2016.3,1286.9 2018.29,1286.9 2020.29,1286.9 2022.28,1286.9 2024.28,1286.9 2026.27,1286.9 2028.26,1286.9 2030.26,1286.8 2032.25,1286.8 2034.25,1286.8 2036.24,1286.8 2038.24,1286.8 2040.23,1286.8 2042.22,1286.8 2044.22,1286.8 2046.21,1286.8 2048.21,1286.8 2050.2,1286.8 2052.19,1286.8 2054.19,1286.8 2056.18,1286.8 2058.18,1286.8 2060.17,1286.8"/>
<polyline class="s-pc8" fill="none" stroke="none" marker-start="url(#k-ci)" marker-mid="url(#k-ci)" marker-end="url(#k-ci)" points="245.59,248.2 247.59,253.1 249.58,258.8 251.58,265.3 253.57,274.5 255.56,297.1 257.56,319.9 259.55,348.4 261.55,377.7 263.54,405.4 265.53,435.6 267.53,465.7 269.52,496.7 271.52,526 273.51,557.8 275.5,588.7 277.5,619.7 279.49,649.8 281.49,680.8 283.48,710.5 285.47,738.1 287.47,767.1 289.46,791.2 291.46,816 293.45,838 295.44,859.2 297.44,876.3 299.43,893.7 301.43,908.1 303.42,920.3 305.41,930.1 307.41,937.4 309.4,941.5 311.4,942.5 313.39,940.7 315.38,935.8 317.38,927.6 319.37,916.2 321.37,900.8 323.36,882 325.35,860.3 327.35,838.4 329.34,816.8 331.34,794.8 333.33,774.5 335.33,757.4 337.32,741.1 339.31,726.7 341.31,713.4 343.3,707.7 345.3,706.4 347.29,707.7 349.28,711.7 351.28,718.3 353.27,728 355.27,742.7 357.26,761.4 359.25,779 361.25,800 363.24,823.9 365.24,848.6 367.23,873.4 369.22,897.5 371.22,923.1 373.21,944.8 375.21,968.8 377.2,991.2 379.19,1010.2 381.19,1029.8 383.18,1048 385.18,1064.5 387.17,1080 389.16,1095.2 391.16,1108.3 393.15,1118.2 395.15,1127 397.14,1134.9 399.13,1142.1 401.13,1148.9 403.12,1155.2 405.12,1161 407.11,1166.2 409.1,1171.3 411.1,1176.1 413.09,1180.8 415.09,1185.2 417.08,1189.2 419.07,1192.8 421.07,1196.1 423.06,1199.3 425.06,1202.2 427.05,1204.9 429.04,1207.3 431.04,1209.6 433.03,1211.7 435.03,1213.7 437.02,1215.5 439.02,1217.3 441.01,1218.9 443,1220.6 445,1222.1 446.99,1223.7 448.99,1225.1 450.98,1226.6 452.97,1228 454.97,1229.3 456.96,1230.5 458.96,1231.7 460.95,1232.8 462.94,1233.8 464.94,1234.7 466.93,1235.6 468.93,1236.4 470.92,1237.2 472.91,1238 474.91,1238.7 476.9,1239.4 478.9,1240 480.89,1240.6 482.88,1241.2 484.88,1241.8 486.87,1242.3 488.87,1242.8 490.86,1243.4 492.85,1243.9 494.85,1244.4 496.84,1245 498.84,1245.5 500.83,1246 502.82,1246.5 504.82,1247 506.81,1247.5 508.81,1248 510.8,1248.4 512.79,1248.9 514.79,1249.3 516.78,1249.8 518.78,1250.2 520.77,1250.6 522.76,1251 524.76,1251.4 526.75,1251.8 528.75,1252.1 530.74,1252.5 532.73,1252.9 534.73,1253.2 536.72,1253.5 538.72,1253.9 540.71,1254.2 542.71,1254.5 544.7,1254.9 546.69,1255.2 548.69,1255.5 550.68,1255.8 552.68,1256.1 554.67,1256.4 556.66,1256.7 558.66,1257 560.65,1257.3 562.65,1257.5 564.64,1257.8 566.63,1258.1 568.63,1258.4 570.62,1258.6 572.62,1258.9 574.61,1259.2 576.6,1259.5 578.6,1259.7 580.59,1260 582.59,1260.3 584.58,1260.5 586.57,1260.8 588.57,1261.1 590.56,1261.3 592.56,1261.6 594.55,1261.8 596.54,1262.1 598.54,1262.3 600.53,1262.6 602.53,1262.8 604.52,1263 606.51,1263.3 608.51,1263.5 610.5,1263.7 612.5,1263.9 614.49,1264.1 616.48,1264.2 618.48,1264.4 620.47,1264.6 622.47,1264.7 624.46,1264.9 626.45,1265 628.45,1265.2 630.44,1265.3 632.44,1265.4 634.43,1265.6 636.43,1265.7 638.42,1265.8 640.41,1266 642.41,1266.1 644.4,1266.2 646.4,1266.3 648.39,1266.4 650.38,1266.5 652.38,1266.6 654.37,1266.7 656.37,1266.8 658.36,1266.9 660.35,1267 662.35,1267.1 664.34,1267.2 666.34,1267.3 668.33,1267.4 670.32,1267.4 672.32,1267.5 674.31,1267.6 676.31,1267.7 678.3,1267.8 680.29,1267.8 682.29,1267.9 684.28,1268 686.28,1268.1 688.27,1268.1 690.26,1268.2 692.26,1268.3 694.25,1268.3 696.25,1268.4 698.24,1268.5 700.23,1268.5 702.23,1268.6 704.22,1268.6 706.22,1268.7 708.21,1268.7 710.2,1268.7 712.2,1268.7 714.19,1268.8 716.19,1268.8 718.18,1268.8 720.17,1268.8 722.17,1268.8 724.16,1268.8 726.16,1268.8 728.15,1268.8 730.14,1268.8 732.14,1268.8 734.13,1268.8 736.13,1268.8 738.12,1268.8 740.12,1268.8 742.11,1268.8 744.1,1268.8 746.1,1268.8 748.09,1268.8 750.09,1268.8 752.08,1268.8 754.07,1268.8 756.07,1268.8 758.06,1268.8 760.06,1268.8 762.05,1268.8 764.04,1268.8 766.04,1268.8 768.03,1268.8 770.03,1268.8 772.02,1268.8 774.01,1268.8 776.01,1268.8 778,1268.8 780,1268.8 781.99,1268.8 783.98,1268.8 785.98,1268.8 787.97,1268.8 789.97,1268.8 791.96,1268.8 793.95,1268.8 795.95,1268.8 797.94,1268.8 799.94,1268.8 801.93,1268.8 803.92,1268.8 805.92,1268.8 807.91,1268.8 809.91,1268.8 811.9,1268.8 813.89,1268.8 815.89,1268.8 817.88,1268.8 819.88,1268.8 821.87,1268.8 823.86,1268.8 825.86,1268.8 827.85,1268.8 829.85,1268.7 831.84,1268.7 833.83,1268.7 835.83,1268.7 837.82,1268.7 839.82,1268.7 841.81,1268.7 843.81,1268.7 845.8,1268.7 847.79,1268.7 849.79,1268.7 851.78,1268.6 853.78,1268.6 855.77,1268.6 857.76,1268.6 859.76,1268.6 861.75,1268.6 863.75,1268.6 865.74,1268.6 867.73,1268.5 869.73,1268.5 871.72,1268.5 873.72,1268.5 875.71,1268.5 877.7,1268.5 879.7,1268.4 881.69,1268.4 883.69,1268.4 885.68,1268.4 887.67,1268.4 889.67,1268.4 891.66,1268.4 893.66,1268.3 895.65,1268.3 897.64,1268.3 899.64,1268.3 901.63,1268.3 903.63,1268.3 905.62,1268.2 907.61,1268.2 909.61,1268.2 911.6,1268.2 913.6,1268.2 915.59,1268.2 917.58,1268.2 919.58,1268.1 921.57,1268.1 923.57,1268.1 925.56,1268.1 927.55,1268.1 929.55,1268.1 931.54,1268.1 933.54,1268 935.53,1268 937.53,1268 939.52,1268 941.51,1268 943.51,1268 945.5,1268 947.5,1267.9 949.49,1267.9 951.48,1267.9 953.48,1267.9 955.47,1267.9 957.47,1267.9 959.46,1267.8 961.45,1267.8 963.45,1267.8 965.44,1267.8 967.44,1267.8 969.43,1267.8 971.42,1267.8 973.42,1267.7 975.41,1267.7 977.41,1267.7 979.4,1267.7 981.39,1267.7 983.39,1267.7 985.38,1267.6 987.38,1267.6 989.37,1267.6 991.36,1267.6 993.36,1267.6 995.35,1267.6 997.35,1267.5 999.34,1267.5 1001.33,1267.5 1003.33,1267.5 1005.32,1267.5 1007.32,1267.5 1009.31,1267.4 1011.3,1267.4 1013.3,1267.4 1015.29,1267.4 1017.29,1267.4 1019.28,1267.4 1021.27,1267.3 1023.27,1267.3 1025.26,1267.3 1027.26,1267.3 1029.25,1267.3 1031.24,1267.3 1033.24,1267.3 1035.23,1267.2 1037.23,1267.2 1039.22,1267.2 1041.22,1267.2 1043.21,1267.2 1045.2,1267.2 1047.2,1267.1 1049.19,1267.1 1051.19,1267.1 1053.18,1267.1 1055.17,1267.1 1057.17,1267.1 1059.16,1267 1061.16,1267 1063.15,1267 1065.14,1267 1067.14,1267 1069.13,1267 1071.13,1267 1073.12,1266.9 1075.11,1266.9 1077.11,1266.9 1079.1,1266.9 1081.1,1266.9 1083.09,1266.9 1085.08,1266.8 1087.08,1266.8 1089.07,1266.8 1091.07,1266.8 1093.06,1266.8 1095.05,1266.8 1097.05,1266.8 1099.04,1266.7 1101.04,1266.7 1103.03,1266.7 1105.02,1266.7 1107.02,1266.7 1109.01,1266.7 1111.01,1266.6 1113,1266.6 1114.99,1266.6 1116.99,1266.6 1118.98,1266.6 1120.98,1266.6 1122.97,1266.6 1124.96,1266.5 1126.96,1266.5 1128.95,1266.5 1130.95,1266.5 1132.94,1266.5 1134.93,1266.5 1136.93,1266.4 1138.92,1266.4 1140.92,1266.4 1142.91,1266.4 1144.91,1266.4 1146.9,1266.4 1148.89,1266.4 1150.89,1266.3 1152.88,1266.3 1154.88,1266.3 1156.87,1266.3 1158.86,1266.3 1160.86,1266.3 1162.85,1266.2 1164.85,1266.2 1166.84,1266.2 1168.83,1266.2 1170.83,1266.2 1172.82,1266.2 1174.82,1266.1 1176.81,1266.1 1178.8,1266.1 1180.8,1266.1 1182.79,1266.1 1184.79,1266.1 1186.78,1266.1 1188.77,1266 1190.77,1266 1192.76,1266 1194.76,1266 1196.75,1266 1198.74,1266 1200.74,1265.9 1202.73,1265.9 1204.73,1265.9 1206.72,1265.9 1208.71,1265.9 1210.71,1265.9 1212.7,1265.8 1214.7,1265.8 1216.69,1265.8 1218.68,1265.8 1220.68,1265.8 1222.67,1265.8 1224.67,1265.7 1226.66,1265.7 1228.65,1265.7 1230.65,1265.7 1232.64,1265.7 1234.64,1265.7 1236.63,1265.6 1238.63,1265.6 1240.62,1265.6 1242.61,1265.6 1244.61,1265.6 1246.6,1265.6 1248.6,1265.5 1250.59,1265.5 1252.58,1265.5 1254.58,1265.5 1256.57,1265.5 1258.57,1265.5 1260.56,1265.4 1262.55,1265.4 1264.55,1265.4 1266.54,1265.4 1268.54,1265.4 1270.53,1265.3 1272.52,1265.3 1274.52,1265.3 1276.51,1265.3 1278.51,1265.3 1280.5,1265.3 1282.49,1265.2 1284.49,1265.2 1286.48,1265.2 1288.48,1265.2 1290.47,1265.2 1292.46,1265.2 1294.46,1265.1 1296.45,1265.1 1298.45,1265.1 1300.44,1265.1 1302.43,1265.1 1304.43,1265 1306.42,1265 1308.42,1265 1310.41,1265 1312.4,1265 1314.4,1264.9 1316.39,1264.9 1318.39,1264.9 1320.38,1264.9 1322.37,1264.9 1324.37,1264.9 1326.36,1264.8 1328.36,1264.8 1330.35,1264.8 1332.34,1264.8 1334.34,1264.8 1336.33,1264.7 1338.33,1264.7 1340.32,1264.7 1342.32,1264.7 1344.31,1264.7 1346.3,1264.6 1348.3,1264.6 1350.29,1264.6 1352.29,1264.6 1354.28,1264.6 1356.27,1264.5 1358.27,1264.5 1360.26,1264.5 1362.26,1264.5 1364.25,1264.5 1366.24,1264.4 1368.24,1264.4 1370.23,1264.4 1372.23,1264.4 1374.22,1264.4 1376.21,1264.3 1378.21,1264.3 1380.2,1264.3 1382.2,1264.3 1384.19,1264.3 1386.18,1264.2 1388.18,1264.2 1390.17,1264.2 1392.17,1264.2 1394.16,1264.2 1396.15,1264.1 1398.15,1264.1 1400.14,1264.1 1402.14,1264.1 1404.13,1264.1 1406.12,1264 1408.12,1264 1410.11,1264 1412.11,1264 1414.1,1264 1416.09,1263.9 1418.09,1263.9 1420.08,1263.9 1422.08,1263.9 1424.07,1263.9 1426.06,1263.8 1428.06,1263.8 1430.05,1263.8 1432.05,1263.8 1434.04,1263.8 1436.04,1263.7 1438.03,1263.7 1440.02,1263.7 1442.02,1263.7 1444.01,1263.7 1446.01,1263.6 1448,1263.6 1449.99,1263.6 1451.99,1263.6 1453.98,1263.6 1455.98,1263.5 1457.97,1263.5 1459.96,1263.5 1461.96,1263.5 1463.95,1263.5 1465.95,1263.4 1467.94,1263.4 1469.93,1263.4 1471.93,1263.4 1473.92,1263.4 1475.92,1263.3 1477.91,1263.3 1479.9,1263.3 1481.9,1263.3 1483.89,1263.2 1485.89,1263.2 1487.88,1263.2 1489.87,1263.2 1491.87,1263.2 1493.86,1263.1 1495.86,1263.1 1497.85,1263.1 1499.84,1263.1 1501.84,1263.1 1503.83,1263 1505.83,1263 1507.82,1263 1509.81,1263 1511.81,1263 1513.8,1262.9 1515.8,1262.9 1517.79,1262.9 1519.78,1262.9 1521.78,1262.9 1523.77,1262.8 1525.77,1262.8 1527.76,1262.8 1529.75,1262.8 1531.75,1262.8 1533.74,1262.7 1535.74,1262.7 1537.73,1262.7 1539.73,1262.7 1541.72,1262.7 1543.71,1262.6 1545.71,1262.6 1547.7,1262.6 1549.7,1262.6 1551.69,1262.6 1553.68,1262.5 1555.68,1262.5 1557.67,1262.5 1559.67,1262.5 1561.66,1262.5 1563.65,1262.4 1565.65,1262.4 1567.64,1262.4 1569.64,1262.4 1571.63,1262.4 1573.62,1262.3 1575.62,1262.3 1577.61,1262.3 1579.61,1262.3 1581.6,1262.3 1583.59,1262.2 1585.59,1262.2 1587.58,1262.2 1589.58,1262.2 1591.57,1262.2 1593.56,1262.1 1595.56,1262.1 1597.55,1262.1 1599.55,1262.1 1601.54,1262 1603.53,1262 1605.53,1262 1607.52,1262 1609.52,1262 1611.51,1261.9 1613.5,1261.9 1615.5,1261.9 1617.49,1261.9 1619.49,1261.9 1621.48,1261.8 1623.47,1261.8 1625.47,1261.8 1627.46,1261.8 1629.46,1261.8 1631.45,1261.7 1633.44,1261.7 1635.44,1261.7 1637.43,1261.7 1639.43,1261.6 1641.42,1261.6 1643.42,1261.6 1645.41,1261.6 1647.4,1261.6 1649.4,1261.5 1651.39,1261.5 1653.39,1261.5 1655.38,1261.5 1657.37,1261.5 1659.37,1261.4 1661.36,1261.4 1663.36,1261.4 1665.35,1261.4 1667.34,1261.4 1669.34,1261.3 1671.33,1261.3 1673.33,1261.3 1675.32,1261.3 1677.31,1261.2 1679.31,1261.2 1681.3,1261.2 1683.3,1261.2 1685.29,1261.2 1687.28,1261.1 1689.28,1261.1 1691.27,1261.1 1693.27,1261.1 1695.26,1261.1 1697.25,1261 1699.25,1261 1701.24,1261 1703.24,1261 1705.23,1261 1707.22,1260.9 1709.22,1260.9 1711.21,1260.9 1713.21,1260.9 1715.2,1260.8 1717.19,1260.8 1719.19,1260.8 1721.18,1260.8 1723.18,1260.8 1725.17,1260.7 1727.16,1260.7 1729.16,1260.7 1731.15,1260.7 1733.15,1260.7 1735.14,1260.6 1737.14,1260.6 1739.13,1260.6 1741.12,1260.6 1743.12,1260.6 1745.11,1260.5 1747.11,1260.5 1749.1,1260.5 1751.09,1260.5 1753.09,1260.5 1755.08,1260.4 1757.08,1260.4 1759.07,1260.4 1761.06,1260.4 1763.06,1260.4 1765.05,1260.3 1767.05,1260.3 1769.04,1260.3 1771.03,1260.3 1773.03,1260.3 1775.02,1260.2 1777.02,1260.2 1779.01,1260.2 1781,1260.2 1783,1260.2 1784.99,1260.1 1786.99,1260.1 1788.98,1260.1 1790.97,1260.1 1792.97,1260.1 1794.96,1260.1 1796.96,1260 1798.95,1260 1800.94,1260 1802.94,1260 1804.93,1260 1806.93,1259.9 1808.92,1259.9 1810.91,1259.9 1812.91,1259.9 1814.9,1259.9 1816.9,1259.9 1818.89,1259.8 1820.88,1259.8 1822.88,1259.8 1824.87,1259.8 1826.87,1259.8 1828.86,1259.7 1830.85,1259.7 1832.85,1259.7 1834.84,1259.7 1836.84,1259.7 1838.83,1259.7 1840.83,1259.6 1842.82,1259.6 1844.81,1259.6 1846.81,1259.6 1848.8,1259.6 1850.8,1259.6 1852.79,1259.5 1854.78,1259.5 1856.78,1259.5 1858.77,1259.5 1860.77,1259.5 1862.76,1259.5 1864.75,1259.4 1866.75,1259.4 1868.74,1259.4 1870.74,1259.4 1872.73,1259.4 1874.72,1259.4 1876.72,1259.3 1878.71,1259.3 1880.71,1259.3 1882.7,1259.3 1884.69,1259.3 1886.69,1259.3 1888.68,1259.2 1890.68,1259.2 1892.67,1259.2 1894.66,1259.2 1896.66,1259.2 1898.65,1259.2 1900.65,1259.2 1902.64,1259.1 1904.63,1259.1 1906.63,1259.1 1908.62,1259.1 1910.62,1259.1 1912.61,1259.1 1914.6,1259 1916.6,1259 1918.59,1259 1920.59,1259 1922.58,1259 1924.57,1259 1926.57,1258.9 1928.56,1258.9 1930.56,1258.9 1932.55,1258.9 1934.54,1258.9 1936.54,1258.9 1938.53,1258.9 1940.53,1258.8 1942.52,1258.8 1944.52,1258.8 1946.51,1258.8 1948.5,1258.8 1950.5,1258.8 1952.49,1258.8 1954.49,1258.7 1956.48,1258.7 1958.47,1258.7 1960.47,1258.7 1962.46,1258.7 1964.46,1258.7 1966.45,1258.7 1968.44,1258.7 1970.44,1258.6 1972.43,1258.6 1974.43,1258.6 1976.42,1258.6 1978.41,1258.6 1980.41,1258.6 1982.4,1258.6 1984.4,1258.6 1986.39,1258.5 1988.38,1258.5 1990.38,1258.5 1992.37,1258.5 1994.37,1258.5 1996.36,1258.5 1998.35,1258.5 2000.35,1258.5 2002.34,1258.4 2004.34,1258.4 2006.33,1258.4 2008.32,1258.4 2010.32,1258.4 2012.31,1258.4 2014.31,1258.4 2016.3,1258.4 2018.29,1258.4 2020.29,1258.4 2022.28,1258.3 2024.28,1258.3 2026.27,1258.3 2028.26,1258.3 2030.26,1258.3 2032.25,1258.3 2034.25,1258.3 2036.24,1258.3 2038.24,1258.3 2040.23,1258.3 2042.22,1258.3 2044.22,1258.2 2046.21,1258.2 2048.21,1258.2 2050.2,1258.2 2052.19,1258.2 2054.19,1258.2 2056.18,1258.2 2058.18,1258.2 2060.17,1258.2"/>
<polyline class="s-pc12" fill="none" stroke="none" marker-start="url(#k-di)" marker-mid="url(#k-di)" marker-end="url(#k-di)" points="245.59,222.4 247.59,225.4 249.58,272.6 251.58,228.6 253.57,239.2 255.56,228.6 257.56,230.2 259.55,249.8 261.55,228.6 263.54,227 265.53,225.4 267.53,222.9 269.52,222.4 271.52,222.9 273.51,226.2 275.5,231.9 277.5,240.4 279.49,249.5 281.49,265 283.48,279.1 285.47,295.4 287.47,311.3 289.46,327.2 291.46,343.2 293.45,358.2 295.44,371.5 297.44,384.2 299.43,395.2 301.43,404.2 303.42,411.9 305.41,417.6 307.41,421.3 309.4,422.5 311.4,419.3 313.39,413.6 315.38,407.4 317.38,400.9 319.37,389.4 321.37,373.7 323.36,360.3 325.35,345 327.35,330.1 329.34,317 331.34,304.7 333.33,294.6 335.33,286.5 337.32,279.9 339.31,275.1 341.31,272.2 343.3,271.2 345.3,271.2 347.29,271.8 349.28,274.2 351.28,279.1 353.27,286.5 355.27,296.2 357.26,310.5 359.25,325 361.25,341 363.24,356.9 365.24,375.3 367.23,393.2 369.22,411.9 371.22,433.1 373.21,451.8 375.21,471.4 377.2,489.3 379.19,506.4 381.19,521.9 383.18,538.2 385.18,551.2 387.17,563.1 389.16,573.6 391.16,583.8 393.15,592.8 395.15,600.1 397.14,607.5 399.13,613.2 401.13,618.9 403.12,623.3 405.12,627.8 407.11,633.5 409.1,636.9 411.1,639.6 413.09,641.9 415.09,644.3 417.08,646.6 419.07,648.9 421.07,651.4 423.06,653.8 425.06,656.3 427.05,658.6 429.04,661 431.04,663.3 433.03,665.6 435.03,667.9 437.02,670.2 439.02,672.5 441.01,674.7 443,676.9 445,679.1 446.99,681.2 448.99,683.3 450.98,685.5 452.97,687.5 454.97,689.3 456.96,691 458.96,692.3 460.95,693.4 462.94,694.3 464.94,695 466.93,695.7 468.93,696.4 470.92,697 472.91,697.7 474.91,698.4 476.9,699 478.9,699.6 480.89,700.2 482.88,700.7 484.88,701.2 486.87,701.6 488.87,702.1 490.86,702.5 492.85,702.9 494.85,703.3 496.84,703.7 498.84,704.1 500.83,704.4 502.82,704.7 504.82,705.1 506.81,705.4 508.81,705.6 510.8,705.9 512.79,706.2 514.79,706.4 516.78,706.6 518.78,706.8 520.77,707 522.76,707.2 524.76,707.3 526.75,707.5 528.75,707.6 530.74,707.8 532.73,707.9 534.73,708.1 536.72,708.2 538.72,708.3 540.71,708.4 542.71,708.6 544.7,708.7 546.69,708.8 548.69,709 550.68,709.1 552.68,709.2 554.67,709.3 556.66,709.4 558.66,709.6 560.65,709.7 562.65,709.8 564.64,709.9 566.63,710 568.63,710.1 570.62,710.2 572.62,710.3 574.61,710.5 576.6,710.6 578.6,710.7 580.59,710.8 582.59,710.9 584.58,711.1 586.57,711.2 588.57,711.3 590.56,711.5 592.56,711.6 594.55,711.7 596.54,711.8 598.54,712 600.53,712.1 602.53,712.2 604.52,712.3 606.51,712.5 608.51,712.6 610.5,712.7 612.5,712.9 614.49,713 616.48,713.1 618.48,713.3 620.47,713.4 622.47,713.6 624.46,713.7 626.45,713.8 628.45,714 630.44,714.1 632.44,714.2 634.43,714.3 636.43,714.4 638.42,714.4 640.41,714.5 642.41,714.5 644.4,714.6 646.4,714.6 648.39,714.7 650.38,714.7 652.38,714.8 654.37,714.8 656.37,714.8 658.36,714.9 660.35,714.9 662.35,714.9 664.34,715 666.34,715 668.33,715 670.32,715 672.32,715 674.31,715 676.31,715.1 678.3,715.1 680.29,715.1 682.29,715.1 684.28,715.1 686.28,715.1 688.27,715.1 690.26,715.1 692.26,715.2 694.25,715.2 696.25,715.2 698.24,715.2 700.23,715.2 702.23,715.2 704.22,715.2 706.22,715.2 708.21,715.2 710.2,715.2 712.2,715.2 714.19,715.3 716.19,715.3 718.18,715.3 720.17,715.3 722.17,715.3 724.16,715.3 726.16,715.3 728.15,715.3 730.14,715.3 732.14,715.3 734.13,715.3 736.13,715.4 738.12,715.4 740.12,715.4 742.11,715.4 744.1,715.4 746.1,715.4 748.09,715.4 750.09,715.5 752.08,715.5 754.07,715.5 756.07,715.5 758.06,715.5 760.06,715.5 762.05,715.5 764.04,715.5 766.04,715.5 768.03,715.5 770.03,715.5 772.02,715.5 774.01,715.4 776.01,715.4 778,715.4 780,715.4 781.99,715.4 783.98,715.3 785.98,715.3 787.97,715.3 789.97,715.3 791.96,715.2 793.95,715.2 795.95,715.2 797.94,715.1 799.94,715.1 801.93,715.1 803.92,715 805.92,715 807.91,714.9 809.91,714.9 811.9,714.8 813.89,714.8 815.89,714.8 817.88,714.7 819.88,714.7 821.87,714.6 823.86,714.6 825.86,714.5 827.85,714.5 829.85,714.4 831.84,714.4 833.83,714.3 835.83,714.3 837.82,714.2 839.82,714.1 841.81,714.1 843.81,714 845.8,714 847.79,713.9 849.79,713.9 851.78,713.8 853.78,713.8 855.77,713.7 857.76,713.7 859.76,713.6 861.75,713.6 863.75,713.5 865.74,713.4 867.73,713.4 869.73,713.3 871.72,713.3 873.72,713.2 875.71,713.2 877.7,713.1 879.7,713.1 881.69,713 883.69,713 885.68,712.9 887.67,712.9 889.67,712.8 891.66,712.7 893.66,712.7 895.65,712.6 897.64,712.6 899.64,712.5 901.63,712.4 903.63,712.4 905.62,712.3 907.61,712.2 909.61,712.2 911.6,712.1 913.6,712 915.59,712 917.58,711.9 919.58,711.8 921.57,711.8 923.57,711.7 925.56,711.6 927.55,711.6 929.55,711.5 931.54,711.4 933.54,711.3 935.53,711.3 937.53,711.2 939.52,711.1 941.51,711.1 943.51,711 945.5,710.9 947.5,710.8 949.49,710.8 951.48,710.7 953.48,710.6 955.47,710.5 957.47,710.5 959.46,710.4 961.45,710.3 963.45,710.2 965.44,710.1 967.44,710.1 969.43,710 971.42,709.9 973.42,709.8 975.41,709.8 977.41,709.7 979.4,709.6 981.39,709.5 983.39,709.4 985.38,709.4 987.38,709.3 989.37,709.2 991.36,709.1 993.36,709.1 995.35,709 997.35,708.9 999.34,708.8 1001.33,708.7 1003.33,708.7 1005.32,708.6 1007.32,708.5 1009.31,708.4 1011.3,708.4 1013.3,708.3 1015.29,708.2 1017.29,708.1 1019.28,708.1 1021.27,708 1023.27,707.9 1025.26,707.8 1027.26,707.8 1029.25,707.7 1031.24,707.6 1033.24,707.5 1035.23,707.5 1037.23,707.4 1039.22,707.3 1041.22,707.2 1043.21,707.2 1045.2,707.1 1047.2,707 1049.19,706.9 1051.19,706.9 1053.18,706.8 1055.17,706.7 1057.17,706.6 1059.16,706.6 1061.16,706.5 1063.15,706.4 1065.14,706.3 1067.14,706.2 1069.13,706.2 1071.13,706.1 1073.12,706 1075.11,705.9 1077.11,705.9 1079.1,705.8 1081.1,705.7 1083.09,705.6 1085.08,705.5 1087.08,705.5 1089.07,705.4 1091.07,705.3 1093.06,705.2 1095.05,705.1 1097.05,705.1 1099.04,705 1101.04,704.9 1103.03,704.8 1105.02,704.8 1107.02,704.7 1109.01,704.6 1111.01,704.5 1113,704.4 1114.99,704.4 1116.99,704.3 1118.98,704.2 1120.98,704.1 1122.97,704 1124.96,704 1126.96,703.9 1128.95,703.8 1130.95,703.7 1132.94,703.7 1134.93,703.6 1136.93,703.5 1138.92,703.4 1140.92,703.3 1142.91,703.3 1144.91,703.2 1146.9,703.1 1148.89,703 1150.89,702.9 1152.88,702.9 1154.88,702.8 1156.87,702.7 1158.86,702.6 1160.86,702.6 1162.85,702.5 1164.85,702.4 1166.84,702.3 1168.83,702.3 1170.83,702.2 1172.82,702.1 1174.82,702 1176.81,701.9 1178.8,701.9 1180.8,701.8 1182.79,701.7 1184.79,701.6 1186.78,701.6 1188.77,701.5 1190.77,701.4 1192.76,701.3 1194.76,701.3 1196.75,701.2 1198.74,701.1 1200.74,701 1202.73,701 1204.73,700.9 1206.72,700.8 1208.71,700.7 1210.71,700.7 1212.7,700.6 1214.7,700.5 1216.69,700.4 1218.68,700.4 1220.68,700.3 1222.67,700.2 1224.67,700.2 1226.66,700.1 1228.65,700 1230.65,699.9 1232.64,699.9 1234.64,699.8 1236.63,699.7 1238.63,699.6 1240.62,699.6 1242.61,699.5 1244.61,699.4 1246.6,699.3 1248.6,699.3 1250.59,699.2 1252.58,699.1 1254.58,699 1256.57,699 1258.57,698.9 1260.56,698.8 1262.55,698.7 1264.55,698.7 1266.54,698.6 1268.54,698.5 1270.53,698.5 1272.52,698.4 1274.52,698.3 1276.51,698.2 1278.51,698.2 1280.5,698.1 1282.49,698 1284.49,697.9 1286.48,697.9 1288.48,697.8 1290.47,697.7 1292.46,697.6 1294.46,697.6 1296.45,697.5 1298.45,697.4 1300.44,697.3 1302.43,697.3 1304.43,697.2 1306.42,697.1 1308.42,697 1310.41,697 1312.4,696.9 1314.4,696.8 1316.39,696.7 1318.39,696.7 1320.38,696.6 1322.37,696.5 1324.37,696.4 1326.36,696.3 1328.36,696.3 1330.35,696.2 1332.34,696.1 1334.34,696 1336.33,696 1338.33,695.9 1340.32,695.8 1342.32,695.7 1344.31,695.6 1346.3,695.6 1348.3,695.5 1350.29,695.4 1352.29,695.3 1354.28,695.2 1356.27,695.2 1358.27,695.1 1360.26,695 1362.26,694.9 1364.25,694.8 1366.24,694.8 1368.24,694.7 1370.23,694.6 1372.23,694.5 1374.22,694.4 1376.21,694.4 1378.21,694.3 1380.2,694.2 1382.2,694.1 1384.19,694 1386.18,694 1388.18,693.9 1390.17,693.8 1392.17,693.7 1394.16,693.6 1396.15,693.6 1398.15,693.5 1400.14,693.4 1402.14,693.3 1404.13,693.2 1406.12,693.2 1408.12,693.1 1410.11,693 1412.11,692.9 1414.1,692.8 1416.09,692.8 1418.09,692.7 1420.08,692.6 1422.08,692.5 1424.07,692.4 1426.06,692.4 1428.06,692.3 1430.05,692.2 1432.05,692.1 1434.04,692 1436.04,692 1438.03,691.9 1440.02,691.8 1442.02,691.7 1444.01,691.6 1446.01,691.6 1448,691.5 1449.99,691.4 1451.99,691.3 1453.98,691.2 1455.98,691.2 1457.97,691.1 1459.96,691 1461.96,690.9 1463.95,690.8 1465.95,690.8 1467.94,690.7 1469.93,690.6 1471.93,690.5 1473.92,690.4 1475.92,690.4 1477.91,690.3 1479.9,690.2 1481.9,690.1 1483.89,690 1485.89,690 1487.88,689.9 1489.87,689.8 1491.87,689.7 1493.86,689.7 1495.86,689.6 1497.85,689.5 1499.84,689.4 1501.84,689.3 1503.83,689.3 1505.83,689.2 1507.82,689.1 1509.81,689 1511.81,688.9 1513.8,688.9 1515.8,688.8 1517.79,688.7 1519.78,688.6 1521.78,688.6 1523.77,688.5 1525.77,688.4 1527.76,688.3 1529.75,688.2 1531.75,688.2 1533.74,688.1 1535.74,688 1537.73,687.9 1539.73,687.9 1541.72,687.8 1543.71,687.7 1545.71,687.6 1547.7,687.5 1549.7,687.5 1551.69,687.4 1553.68,687.3 1555.68,687.2 1557.67,687.2 1559.67,687.1 1561.66,687 1563.65,686.9 1565.65,686.8 1567.64,686.8 1569.64,686.7 1571.63,686.6 1573.62,686.5 1575.62,686.4 1577.61,686.4 1579.61,686.3 1581.6,686.2 1583.59,686.1 1585.59,686.1 1587.58,686 1589.58,685.9 1591.57,685.8 1593.56,685.7 1595.56,685.7 1597.55,685.6 1599.55,685.5 1601.54,685.4 1603.53,685.3 1605.53,685.3 1607.52,685.2 1609.52,685.1 1611.51,685 1613.5,684.9 1615.5,684.9 1617.49,684.8 1619.49,684.7 1621.48,684.6 1623.47,684.5 1625.47,684.5 1627.46,684.4 1629.46,684.3 1631.45,684.2 1633.44,684.2 1635.44,684.1 1637.43,684 1639.43,683.9 1641.42,683.9 1643.42,683.8 1645.41,683.7 1647.4,683.6 1649.4,683.6 1651.39,683.5 1653.39,683.4 1655.38,683.3 1657.37,683.3 1659.37,683.2 1661.36,683.1 1663.36,683 1665.35,683 1667.34,682.9 1669.34,682.8 1671.33,682.8 1673.33,682.7 1675.32,682.6 1677.31,682.5 1679.31,682.5 1681.3,682.4 1683.3,682.3 1685.29,682.3 1687.28,682.2 1689.28,682.1 1691.27,682.1 1693.27,682 1695.26,682 1697.25,681.9 1699.25,681.8 1701.24,681.8 1703.24,681.7 1705.23,681.6 1707.22,681.6 1709.22,681.5 1711.21,681.5 1713.21,681.4 1715.2,681.3 1717.19,681.3 1719.19,681.2 1721.18,681.1 1723.18,681.1 1725.17,681 1727.16,681 1729.16,680.9 1731.15,680.8 1733.15,680.8 1735.14,680.7 1737.14,680.7 1739.13,680.6 1741.12,680.5 1743.12,680.5 1745.11,680.4 1747.11,680.4 1749.1,680.3 1751.09,680.3 1753.09,680.2 1755.08,680.1 1757.08,680.1 1759.07,680 1761.06,680 1763.06,679.9 1765.05,679.8 1767.05,679.8 1769.04,679.7 1771.03,679.7 1773.03,679.6 1775.02,679.6 1777.02,679.5 1779.01,679.5 1781,679.4 1783,679.4 1784.99,679.3 1786.99,679.2 1788.98,679.2 1790.97,679.1 1792.97,679.1 1794.96,679 1796.96,679 1798.95,678.9 1800.94,678.9 1802.94,678.8 1804.93,678.8 1806.93,678.7 1808.92,678.7 1810.91,678.7 1812.91,678.6 1814.9,678.6 1816.9,678.5 1818.89,678.5 1820.88,678.4 1822.88,678.4 1824.87,678.3 1826.87,678.3 1828.86,678.3 1830.85,678.2 1832.85,678.2 1834.84,678.1 1836.84,678.1 1838.83,678 1840.83,678 1842.82,678 1844.81,677.9 1846.81,677.9 1848.8,677.9 1850.8,677.8 1852.79,677.8 1854.78,677.8 1856.78,677.7 1858.77,677.7 1860.77,677.7 1862.76,677.6 1864.75,677.6 1866.75,677.6 1868.74,677.5 1870.74,677.5 1872.73,677.5 1874.72,677.5 1876.72,677.4 1878.71,677.4 1880.71,677.4 1882.7,677.3 1884.69,677.3 1886.69,677.3 1888.68,677.3 1890.68,677.2 1892.67,677.2 1894.66,677.2 1896.66,677.2 1898.65,677.1 1900.65,677.1 1902.64,677.1 1904.63,677.1 1906.63,677 1908.62,677 1910.62,677 1912.61,677 1914.6,676.9 1916.6,676.9 1918.59,676.9 1920.59,676.9 1922.58,676.8 1924.57,676.8 1926.57,676.8 1928.56,676.8 1930.56,676.8 1932.55,676.7 1934.54,676.7 1936.54,676.7 1938.53,676.7 1940.53,676.7 1942.52,676.6 1944.52,676.6 1946.51,676.6 1948.5,676.6 1950.5,676.5 1952.49,676.5 1954.49,676.5 1956.48,676.5 1958.47,676.5 1960.47,676.4 1962.46,676.4 1964.46,676.4 1966.45,676.4 1968.44,676.3 1970.44,676.3 1972.43,676.3 1974.43,676.3 1976.42,676.3 1978.41,676.2 1980.41,676.2 1982.4,676.2 1984.4,676.2 1986.39,676.1 1988.38,676.1 1990.38,676.1 1992.37,676.1 1994.37,676 1996.36,676 1998.35,676 2000.35,676 2002.34,675.9 2004.34,675.9 2006.33,675.9 2008.32,675.9 2010.32,675.8 2012.31,675.8 2014.31,675.8 2016.3,675.8 2018.29,675.7 2020.29,675.7 2022.28,675.7 2024.28,675.7 2026.27,675.6 2028.26,675.6 2030.26,675.6 2032.25,675.6 2034.25,675.5 2036.24,675.5 2038.24,675.5 2040.23,675.4 2042.22,675.4 2044.22,675.4 2046.21,675.4 2048.21,675.3 2050.2,675.3 2052.19,675.3 2054.19,675.2 2056.18,675.2 2058.18,675.2 2060.17,675.2"/>
</g>
<g class="legend">
<rect x="1605.08" y="140.9" width="329.24" height="469.3" fill="#fff" stroke="#000" stroke-width="4.9"/>
<use href="#m-sq" x="1680.17" y="199.5"/>
<text transform="translate(1716.53 217.7) scale(0.9924 1)">PC-0</text>
<use href="#m-tr" x="1680.17" y="317.3"/>
<text transform="translate(1716.53 334.8) scale(0.9924 1)">PC-4</text>
<use href="#m-ci" x="1680.17" y="434.4"/>
<text transform="translate(1716.53 452.0) scale(0.9924 1)">PC-8</text>
<use href="#m-di" x="1680.17" y="551.5"/>
<text transform="translate(1716.53 569.2) scale(0.9924 1)">PC-12</text>
</g>
<g class="ann" fill="none" stroke="#E46C0A" stroke-width="5.2" stroke-linejoin="miter">
<path stroke-dasharray="17.5 12.15" d="M1159.41 846.6 H1093.81 L1225.25 715 L1356.69 846.6 H1290.68 V1391.4 H1159.41 Z"/>
<path stroke-dasharray="17.45 12.13" stroke-dashoffset="9.4" d="M1324.83 886.5 H1967.12 V1072.3 H1324.83 Z"/>
<text stroke="none" transform="translate(1463 953.8) scale(1.0512 1)">increasing of</text>
<text stroke="none" transform="translate(1422.23 1041.6) scale(1.0571 1)">refractive index</text>
</g>
</g>
</svg>
</body>
</html>
